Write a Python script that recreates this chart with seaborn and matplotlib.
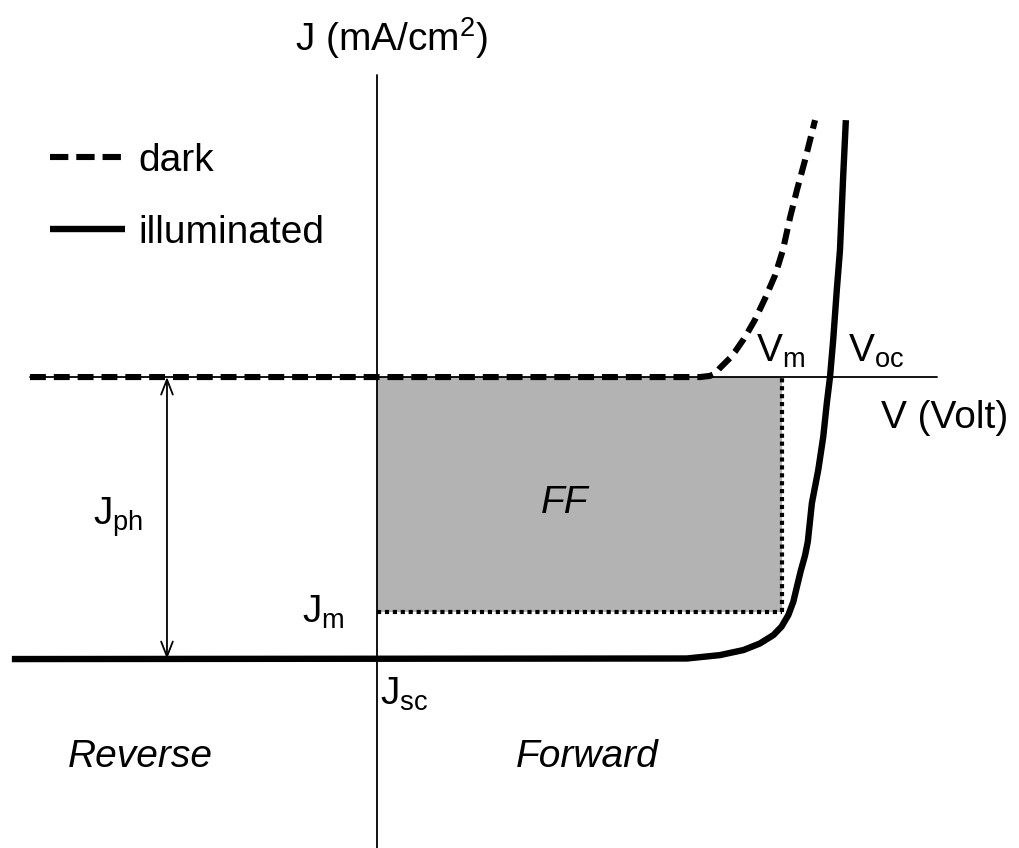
import matplotlib
matplotlib.use("Agg")
import matplotlib.pyplot as plt
import pandas as pd
import seaborn as sns

# Schematic J-V characteristic of a solar cell, normalised so that Voc = 1 and Jph = 1
dark_v = [-0.766, 0.713, 0.735, 0.748, 0.757, 0.779, 0.790, 0.808, 0.819, 0.834, 0.857,
          0.879, 0.896, 0.912, 0.927, 0.945, 0.967]
dark_j = [0.0, 0.0, 0.004, 0.014, 0.032, 0.067, 0.089, 0.131, 0.160, 0.202, 0.280,
          0.362, 0.450, 0.567, 0.663, 0.770, 0.911]

illum_v = [-0.806, 0.684, 0.757, 0.809, 0.845, 0.875, 0.893, 0.908, 0.919, 0.926, 0.935,
           0.945, 0.951, 0.960, 0.974, 0.985, 0.993, 1.000, 1.007, 1.015, 1.022, 1.029, 1.035]
illum_j = [-1.0, -0.998, -0.986, -0.968, -0.945, -0.915, -0.885, -0.844, -0.797, -0.750, -0.690,
           -0.632, -0.584, -0.447, -0.330, -0.213, -0.092, 0.0, 0.131, 0.309, 0.450, 0.709, 0.911]

v_m, j_m = 0.894, -0.833      # maximum power point
v_oc, j_sc = 1.0, -1.0        # open-circuit voltage, short-circuit current

sns.set_theme(style="white")
plt.rcParams["font.family"] = ["Liberation Sans", "DejaVu Sans"]
plt.rcParams["mathtext.fontset"] = "custom"
plt.rcParams["mathtext.rm"] = "Liberation Sans"
plt.rcParams["mathtext.it"] = "Liberation Sans:italic"
plt.rcParams["text.color"] = "black"

fig = plt.figure(figsize=(10.19, 8.48), dpi=100)
ax = fig.add_axes([0, 0, 1, 1])
ax.set_axis_off()

# Maximum power rectangle
ax.fill_between([0, v_m], [j_m, j_m], [0, 0], color="#b3b3b3", lw=0, zorder=1)
ax.plot([0, v_m], [j_m, j_m], color="black", lw=3.0, linestyle=(0, (1.0, 0.9)), zorder=3)
ax.plot([v_m, v_m], [j_m, 0], color="black", lw=3.0, linestyle=(0, (1.0, 0.9)), zorder=3)

# Coordinate axes
ax.plot([-0.766, 1.236], [0, 0], color="black", lw=1.3, zorder=2)
ax.plot([0, 0], [-1.670, 1.071], color="black", lw=1.3, zorder=5)

dark = pd.DataFrame({"V": dark_v, "J": dark_j})
illum = pd.DataFrame({"V": illum_v, "J": illum_j})
sns.lineplot(data=dark, x="V", y="J", ax=ax, color="black", lw=4.4, estimator=None,
             sort=False, linestyle=(0, (2.6, 1.3)), label="dark", zorder=4)
sns.lineplot(data=illum, x="V", y="J", ax=ax, color="black", lw=4.6, estimator=None,
             sort=False, label="illuminated", zorder=4,
             solid_joinstyle="round", solid_capstyle="butt")
ax.set_xlim(-0.8322, 1.4172)
ax.set_ylim(-1.670, 1.337)
ax.set_axis_off()

# Photocurrent arrow
ax.annotate("", xy=(-0.4636, j_sc), xytext=(-0.4636, 0),
            arrowprops=dict(arrowstyle="<->,head_length=0.9,head_width=0.35",
                            color="black", lw=1.3, shrinkA=0, shrinkB=0), zorder=3)

fs = 28
leg = ax.legend(loc="upper left", bbox_to_anchor=(0.034, 0.85), frameon=False, fontsize=fs,
                handlelength=1.93, handletextpad=0.33, labelspacing=0.93, borderaxespad=0)
leg.get_lines()[0].set_dashes((3.0, 1.3))

ax.text(0.033, 1.202, "J (mA/cm$^{2}$)", fontsize=fs, ha="center", va="center")
ax.text(1.254, -0.145, "V (Volt)", fontsize=fs, ha="center", va="center")
ax.text(v_m - 0.003, 0.025, "V$_{\\mathrm{m}}$", fontsize=fs, ha="center", va="bottom")
ax.text(v_oc + 0.04, 0.025, "V$_{\\mathrm{oc}}$", fontsize=fs, ha="left", va="bottom")
ax.text(-0.572, -0.496, "J$_{\\mathrm{ph}}$", fontsize=fs, ha="center", va="center")
ax.text(-0.071, j_m, "J$_{\\mathrm{m}}$", fontsize=fs, ha="right", va="center")
ax.text(0.007, j_sc - 0.06, "J$_{\\mathrm{sc}}$", fontsize=fs, ha="left", va="top")
ax.text(0.415, -0.447, "FF", fontsize=fs, ha="center", va="center", style="italic")
ax.text(-0.523, -1.348, "Reverse", fontsize=fs, ha="center", va="center", style="italic")
ax.text(0.464, -1.348, "Forward", fontsize=fs, ha="center", va="center", style="italic")

fig.savefig("out.png", dpi=100)
